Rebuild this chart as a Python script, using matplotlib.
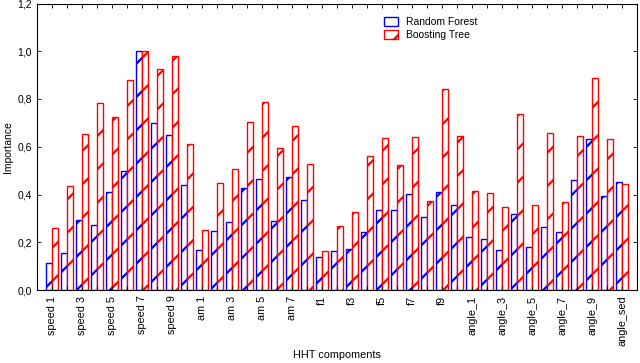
import matplotlib
matplotlib.use("Agg")
import matplotlib.pyplot as plt
import numpy as np

plt.rcParams['font.family'] = ['Liberation Sans', 'DejaVu Sans']
plt.rcParams['hatch.linewidth'] = 1.6

categories = ([f"speed {i}" for i in range(1, 11)] +
              [f"am {i}" for i in range(1, 9)] +
              [f"f{i}" for i in range(1, 11)] +
              [f"angle_{i}" for i in range(1, 11)] +
              ["angle_sed"])

random_forest = [0.114, 0.156, 0.295, 0.274, 0.41, 0.50, 1.0, 0.70, 0.65, 0.439,
                 0.169, 0.249, 0.283, 0.426, 0.464, 0.291, 0.473, 0.375,
                 0.139, 0.165, 0.173, 0.241, 0.333, 0.337, 0.401, 0.304, 0.41, 0.354,
                 0.22, 0.215, 0.169, 0.32, 0.181, 0.262, 0.241, 0.46, 0.633, 0.392,
                 0.451]
boosting_tree = [0.26, 0.435, 0.654, 0.785, 0.726, 0.878, 1.0, 0.924, 0.979, 0.612,
                 0.253, 0.447, 0.506, 0.705, 0.789, 0.595, 0.688, 0.527,
                 0.165, 0.266, 0.325, 0.561, 0.637, 0.523, 0.641, 0.371, 0.84, 0.646,
                 0.413, 0.405, 0.346, 0.738, 0.354, 0.658, 0.367, 0.646, 0.886, 0.633,
                 0.443]

yticks = [0.0, 0.2, 0.4, 0.6, 0.8, 1.0, 1.2]
ytick_labels = ["0,0", "0,2", "0,4", "0,6", "0,8", "1,0", "1,2"]

fig = plt.figure(figsize=(6.4, 3.63), dpi=100)
ax = fig.add_axes([37/640, 1 - 290/363, 600/640, 286.5/363])

x = np.arange(1, len(categories) + 1)
w = 0.4
ax.bar(x - w/2, random_forest, width=w, facecolor='white', edgecolor='#0000ff',
       hatch='/', linewidth=1.0, label='Random Forest')
ax.bar(x + w/2, boosting_tree, width=w, facecolor='white', edgecolor='#ff0000',
       hatch='/', linewidth=1.0, label='Boosting Tree')

ax.set_xlim(0, 40)
ax.set_ylim(0, 1.2)
ax.set_yticks(yticks)
ax.set_yticklabels(ytick_labels, fontsize=7.5)
ax.set_xticks(x)
ax.set_xticklabels([c if i % 2 == 0 else "" for i, c in enumerate(categories)],
                   rotation=90, fontsize=7.8)
ax.tick_params(direction='in', top=True, right=True, length=3, width=0.6)
ax.tick_params(axis='x', pad=4)
for s in ax.spines.values():
    s.set_linewidth(0.8)

ax.set_ylabel("Importance", fontsize=7.5, labelpad=3)
fig.text(337/640, 1 - 355/363, "HHT compoments", fontsize=7.8,
         ha='center', va='center')

ax.legend(loc='upper left', bbox_to_anchor=(0.563, 0.985), frameon=False,
          fontsize=7.5, handlelength=1.3, handleheight=0.9, labelspacing=0.3)

fig.savefig("out.png", dpi=100)
